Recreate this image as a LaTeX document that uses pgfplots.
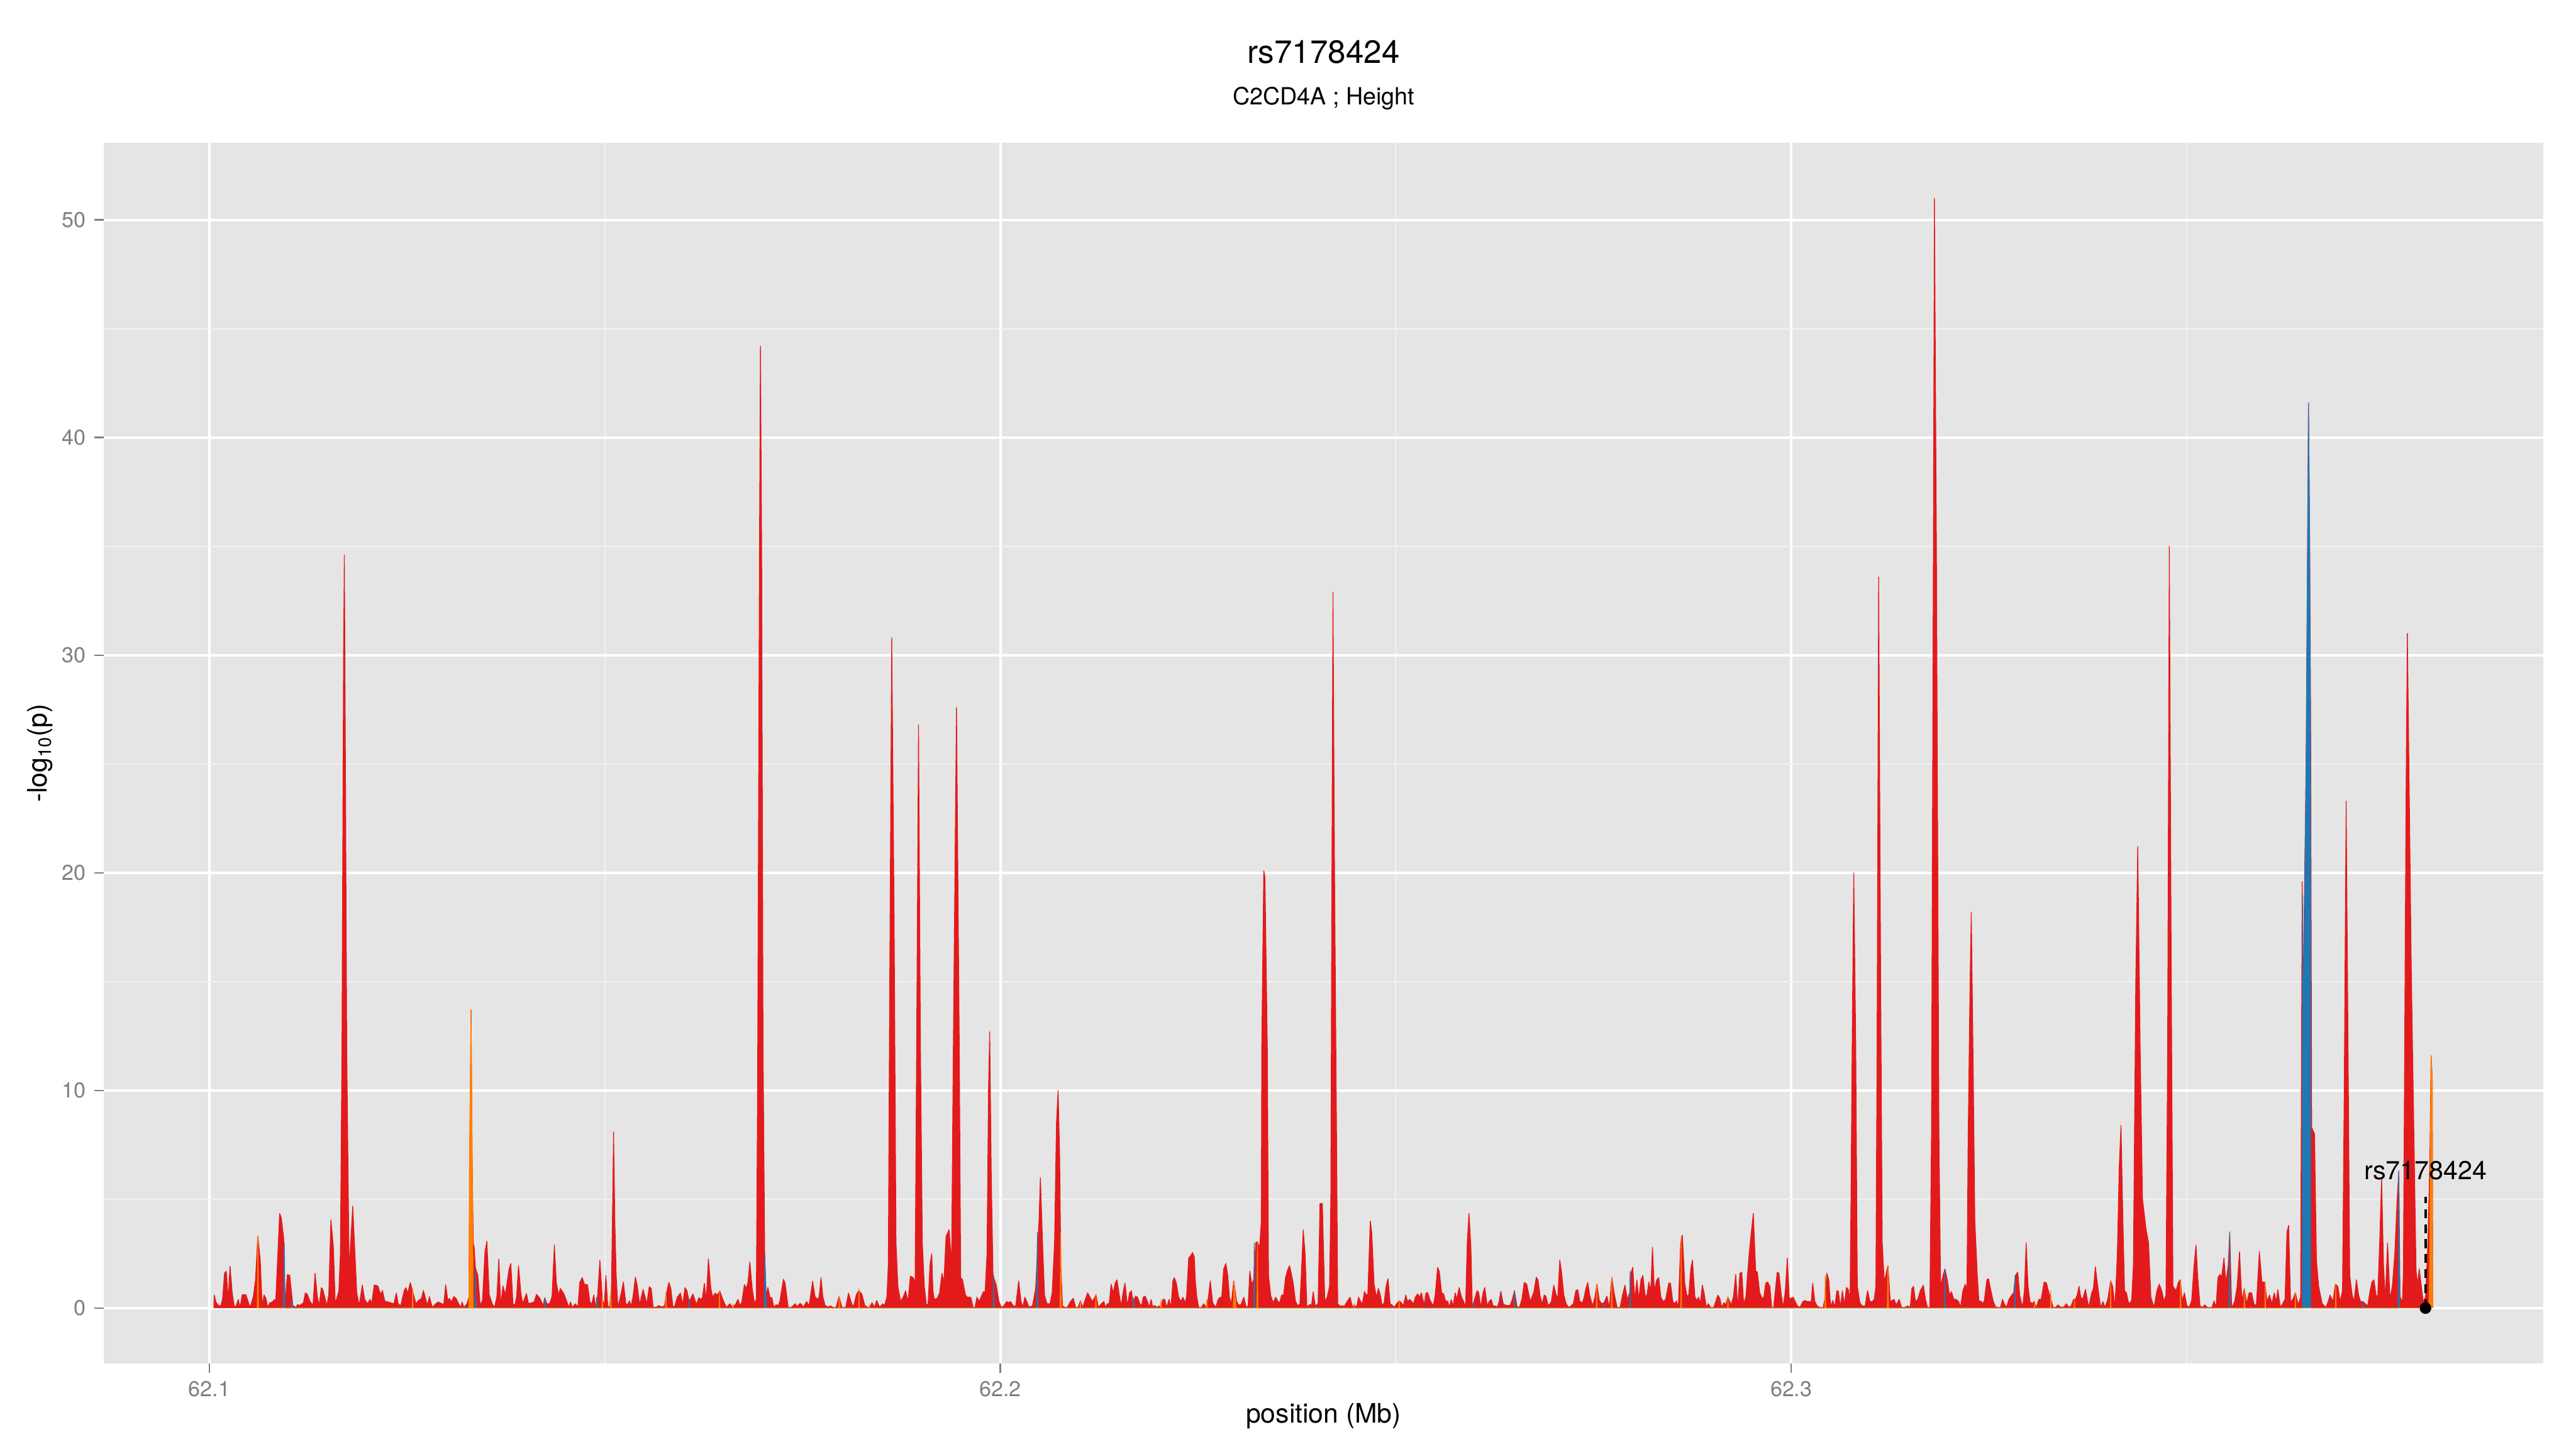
\documentclass[border=0pt]{standalone}
\usepackage{fontspec}
\setmainfont{TeX Gyre Heros}
\usepackage{pgfplots}
\pgfplotsset{compat=1.18}
\definecolor{ggbg}{HTML}{E5E5E5}
\definecolor{ggminor}{HTML}{F2F2F2}
\definecolor{ggtick}{HTML}{7F7F7F}
\definecolor{ldred}{HTML}{E31A1C}
\definecolor{ldblue}{HTML}{1F78B4}
\definecolor{ldorange}{HTML}{FF7F00}
\definecolor{ldpurple}{HTML}{6A3D9A}
% x = position - 62.1 Mb, in kb
\begin{document}
\begin{tikzpicture}
\path[use as bounding box] (0,0) rectangle (1152pt,648pt);
\begin{axis}[
  at={(46.3pt,38.2pt)}, anchor=south west,
  width=1091.1pt, height=546pt, scale only axis,
  xmin=-13.4, xmax=295.1, ymin=-2.55, ymax=53.55,
  axis background/.style={fill=ggbg},
  axis line style={draw=none},
  tick pos=left,
  xtick={0,100,200}, xticklabels={62.1,62.2,62.3},
  minor xtick={50,150,250},
  ytick={0,10,20,30,40,50}, minor ytick={5,15,25,35,45},
  grid=both,
  major grid style={white, line width=1.1pt},
  minor grid style={ggminor, line width=0.55pt},
  major tick style={ggtick, line width=0.7pt},
  major tick length=4.25pt, minor tick length=0pt,
  tick align=outside,
  /pgf/number format/assume math mode=true,
  ticklabel style={font=\fontsize{9.6}{11}\selectfont, text=ggtick},
]
\addplot[fill=ldred, draw=ldred, line width=0.35pt, line join=round] table {
0.55 0
0.60 0.6
0.84 0.25
1.21 0.1
1.45 0.12
1.66 0.44
1.90 1.6
2.12 1.7
2.36 0.4
2.60 1.92
2.87 0.69
3.15 0.03
3.39 0.12
3.63 0.4
3.87 0.03
4.14 0.61
4.60 0.61
4.90 0.28
5.14 0.03
5.54 0.53
5.81 1.27
6.11 3.3
6.42 2.17
6.66 0.12
6.90 0.61
7.14 0.44
7.36 0.03
7.63 0.24
7.96 0.28
8.17 0.38
8.38 0.36
8.87 4.35
9.08 4.14
9.38 3.2
9.57 0.2
9.84 1.53
10.14 1.51
10.54 0.12
10.90 0.03
11.14 0.16
11.41 0.12
11.87 0.24
12.11 0.69
12.35 0.65
12.72 0.3
13.08 0.12
13.35 1.6
13.63 0.53
13.87 0.12
14.14 0.94
14.32 0.86
14.84 0.12
15.08 0.61
15.35 4.06
15.66 2.83
15.90 0.2
16.35 0.77
16.55 2.5
16.75 12
16.95 30
17.05 34.6
17.12 30
17.35 12
17.65 1.76
18.11 4.68
18.62 0.69
18.93 0.12
19.32 1.06
19.62 0.4
19.99 0.2
20.29 0.4
20.50 0.2
20.83 1.06
21.29 1.02
21.65 0.61
21.86 0.81
22.17 0.32
22.56 0.28
23.32 0.2
23.62 0.69
23.86 0.2
24.17 0.1
24.62 0.81
24.83 0.94
25.07 0.69
25.38 1.17
25.68 0.77
26.10 0.2
26.44 0.36
26.80 0.44
27.04 0.81
27.32 0.44
27.56 0.12
27.80 0.53
28.16 0.03
28.62 0.2
28.92 0.28
29.62 0.16
29.86 1.08
30.13 0.36
30.35 0.44
30.59 0.28
30.89 0.53
31.19 0.44
31.50 0.2
31.74 0.03
31.95 0.28
32.16 0.03
32.56 0.2
32.80 0.5
32.95 7.6
33.07 13.7
33.20 7
33.35 3
33.46 2.8
33.62 1.85
33.92 1.51
34.22 0.12
34.52 0.36
34.83 2.58
35.07 3.07
35.37 0.61
35.74 0.2
36.04 0.03
36.34 0.53
36.58 2.25
36.83 0.12
37.10 1.02
37.40 0.61
37.86 1.76
38.10 2.05
38.37 0.2
38.61 0.12
38.83 0.53
39.07 1.95
39.37 0.69
39.61 0.2
40.07 0.67
40.34 0.2
41.04 0.28
41.34 0.63
41.80 0.44
42.16 0.12
42.40 0.48
42.64 0.2
43.01 0.2
43.31 0.53
43.61 2.9
43.85 1.18
44.13 0.61
44.37 0.9
44.82 0.65
45.12 0.36
45.43 0.03
45.64 0.28
45.88 0.03
46.28 0.2
46.58 0.03
46.82 1.18
47.12 1.4
47.43 1.08
47.79 1.08
48.09 0.3
48.33 0.16
48.58 0.6
48.85 0.03
49.06 0.5
49.36 2.2
49.67 0.4
49.91 0.1
50.12 1.5
50.36 0.1
50.58 0.03
50.82 0.8
50.98 5
51.09 8.1
51.25 4
51.42 1.5
51.64 0.03
51.88 0.4
52.12 0.8
52.33 1.2
52.64 0.2
52.85 0.16
53.09 0.33
53.30 0.1
53.54 0.5
53.85 1.42
54.09 1.02
54.39 0.15
54.82 0.86
55.06 0.53
55.30 0.2
55.60 0.98
55.85 0.9
56.09 0.05
56.42 0.03
56.82 0.12
57.12 0.05
57.54 0.1
57.78 0.69
58.09 1.18
58.33 0.9
58.57 0.12
58.78 0.03
59.15 0.5
59.54 0.69
59.84 0.16
60.12 0.94
60.36 0.8
60.66 0.3
61.12 0.65
61.57 0.16
61.87 0.48
62.12 0.4
62.33 0.48
62.57 1.14
62.81 0.36
63.08 2.26
63.39 0.9
63.63 0.5
63.93 0.69
64.15 0.6
64.54 0.77
64.90 0.4
65.36 0.03
65.81 0.2
66.11 0.03
66.51 0.16
66.81 0.4
67.11 0.1
67.32 0.3
67.63 1.08
67.87 0.9
68.08 1.18
68.32 2.12
68.63 0.86
68.93 0.2
69.14 0.4
69.30 10
69.54 35
69.66 44.2
69.81 35
69.99 12
70.20 2.4
70.36 0.5
70.60 0.95
70.87 0.48
71.11 0.48
71.35 0.03
71.66 0.16
71.87 0.1
72.11 0.3
72.57 1.33
72.78 1.14
73.17 0.03
73.54 0.03
74.08 0.2
74.29 0.05
74.60 0.2
74.81 0.2
75.05 0.03
75.50 0.3
75.81 0.1
76.26 1.23
76.56 0.53
76.87 0.4
77.08 0.5
77.32 1.4
77.56 0.5
77.84 0.12
78.23 0.05
78.53 0.1
78.84 0.03
79.23 0.03
79.59 0.53
79.96 0.03
80.44 0.03
80.80 0.69
81.11 0.3
81.41 0.03
81.77 0.6
82.08 0.8
82.47 0.65
82.86 0.12
83.23 0.03
83.47 0.03
83.77 0.25
84.08 0.03
84.35 0.35
84.74 0.03
85.11 0.2
85.35 0.12
85.65 0.5
85.83 2
86.01 15
86.26 30.8
86.56 18
86.80 3
87.04 1.0
87.38 0.3
87.71 0.5
88.01 0.8
88.32 0.3
88.62 1.47
88.98 1.4
89.22 1.2
89.41 12
89.65 26.8
89.89 12
90.13 3
90.38 1.0
90.65 0.12
90.86 0.2
91.10 2.0
91.32 2.5
91.47 0.8
91.65 0.4
92.01 0.45
92.31 0.7
92.62 1.6
92.86 1.2
93.13 3.3
93.52 3.6
93.83 2
94.05 12
94.45 27.6
94.80 12
94.98 1.4
95.22 1.3
95.58 0.6
95.82 0.5
96.25 0.5
96.55 0.03
96.79 0.03
97.04 0.5
97.31 0.3
97.55 0.5
97.85 0.75
98.07 0.75
98.31 2.5
98.50 10
98.65 12.7
98.85 6
99.07 1.5
99.46 1.08
99.82 0.3
100.13 0.03
100.43 0.1
100.79 0.3
101.03 0.25
101.28 0.3
101.64 0.1
101.94 0.1
102.31 1.25
102.61 0.3
102.85 0.05
103.09 0.5
103.34 0.3
103.61 0.05
104.06 0.1
104.46 0.9
104.67 2.5
104.88 4
105.06 6
105.33 3
105.58 0.6
105.88 0.2
106.27 0.2
106.55 0.7
106.85 3
107.09 8.5
107.30 10
107.49 7
107.64 2
107.85 0.1
108.15 0.03
108.45 0.03
108.85 0.3
109.21 0.45
109.52 0.03
109.82 0.03
110.12 0.33
110.42 0.03
110.73 0.4
111.03 0.7
111.33 0.5
111.64 0.3
112.09 0.6
112.39 0.03
112.76 0.2
113.09 0.3
113.30 0.03
113.51 0.2
113.76 0.2
114.00 1.1
114.27 0.7
114.51 1.15
114.75 1.3
115.03 0.6
115.27 0.1
115.51 0.7
115.75 1.15
116.06 0.1
116.33 0.7
116.57 0.8
116.78 0.2
117.09 0.55
117.33 0.5
117.63 0.2
117.85 0.1
118.06 0.5
118.30 0.55
118.60 0.3
118.84 0.03
119.06 0.4
119.27 0.03
119.51 0.12
119.75 0.03
120.06 0.1
120.30 0.03
120.57 0.4
120.78 0.4
121.02 0.03
121.33 0.4
121.57 0.03
121.81 1.25
121.99 1.4
122.24 1.15
122.54 0.5
122.84 0.3
123.08 0.5
123.33 0.25
123.54 0.5
123.81 2.3
124.05 2.4
124.30 2.55
124.51 2.35
124.66 1.2
124.84 0.5
125.08 0.03
125.42 0.03
125.72 0.2
126.02 0.03
126.27 0.4
126.54 1.25
126.84 0.25
127.23 0.03
127.54 0.4
127.81 0.5
127.99 0.5
128.23 1.8
128.51 2.05
128.75 1.5
128.96 0.5
129.20 0.2
129.51 1.25
129.87 0.3
130.11 0.15
130.41 0.15
130.78 0.5
131.08 0.03
131.32 0.1
131.54 1.7
131.78 1.1
132.02 1.3
132.29 3
132.47 3.05
132.78 2.8
132.99 4
133.05 12
133.30 20.1
133.45 19.8
133.75 12
133.90 1.5
134.20 0.55
134.50 0.25
134.81 0.5
135.11 0.3
135.32 0.25
135.56 0.6
135.81 0.6
136.05 1.4
136.32 1.75
136.56 1.95
136.78 1.6
137.02 1.15
137.32 0.3
137.62 0.1
137.87 0.2
138.05 1.5
138.29 3.6
138.53 2.5
138.75 0.03
139.05 0.15
139.35 0.15
139.56 0.75
139.81 0.1
140.17 0.2
140.41 4.8
140.71 4.8
141.02 0.3
141.32 0.5
141.62 1.0
141.78 5
141.92 20
142.05 32.9
142.25 20
142.50 8
142.65 0.2
142.92 0.1
143.22 0.1
143.53 0.1
143.83 0.3
144.22 0.5
144.53 0.03
144.74 0.15
145.04 0.03
145.28 0.5
145.56 0.3
145.74 0.15
146.04 0.77
146.25 0.6
146.46 0.65
146.77 4.0
146.95 3.5
147.25 1.1
147.55 0.5
147.80 0.9
148.04 0.6
148.28 0.1
148.52 0.25
148.77 1.0
149.01 1.35
149.28 0.2
149.58 0.12
149.80 0.03
150.10 0.2
150.43 0.33
150.70 0.25
150.95 0.1
151.25 0.6
151.49 0.3
151.76 0.4
152.01 0.3
152.25 0.2
152.46 0.5
152.76 0.65
153.01 0.5
153.22 0.7
153.61 0.1
153.82 0.7
154.04 0.7
154.34 0.35
154.73 0.1
154.98 0.6
155.28 1.86
155.49 1.7
155.79 0.7
156.04 0.65
156.31 0.3
156.55 0.33
156.76 0.03
157.00 0.4
157.22 0.1
157.52 0.7
157.70 0.4
158.00 0.94
158.31 0.5
158.58 0.3
158.82 0.03
159.03 3
159.25 4.35
159.49 2.8
159.67 0.03
160.03 0.5
160.28 0.8
160.49 0.7
160.73 0.03
161.03 0.7
161.25 0.95
161.55 0.1
161.79 0.3
162.06 0.4
162.30 0.1
162.61 0.1
162.82 0.03
163.06 0.3
163.27 0.77
163.58 0.2
163.91 0.12
164.43 0.12
164.73 0.4
165.00 0.8
165.33 0.05
165.64 0.05
165.94 0.4
166.24 1.18
166.55 1.1
167.00 0.3
167.46 0.75
167.76 1.42
167.97 1.3
168.27 0.5
168.51 0.2
168.76 0.6
168.97 0.55
169.27 0.1
169.67 0.3
169.97 1.06
170.27 0.6
170.48 0.5
170.73 2.2
170.94 1.7
171.24 0.6
171.54 0.2
171.85 0.03
172.15 0.1
172.45 0.2
172.76 0.8
173.00 0.85
173.27 0.3
173.60 0.25
173.81 0.5
174.03 0.9
174.27 1.18
174.51 0.6
174.87 0.1
175.18 0.5
175.42 1.1
175.72 0.36
176.03 0.2
176.33 0.25
176.69 0.55
177.00 0.03
177.30 1.42
177.60 0.7
177.97 0.03
178.36 0.03
178.66 0.6
178.97 1.05
179.27 0.4
179.57 0.7
179.72 1.6
179.96 1.88
180.21 0.4
180.48 1.3
180.72 0.4
180.99 1.3
181.24 1.5
181.54 0.5
181.78 0.65
181.99 1.2
182.24 0.8
182.45 2.8
182.69 0.8
182.99 1.3
183.24 1.4
183.51 0.5
183.81 0.3
184.12 0.4
184.51 1.15
184.72 1.15
185.02 0.3
185.26 0.2
185.48 0.33
185.72 0.05
186.02 3
186.23 3.35
186.54 1.1
186.84 0.5
187.05 0.65
187.29 1.8
187.51 2.2
187.81 0.53
188.05 0.35
188.30 0.5
188.51 0.2
188.75 1.06
188.96 0.73
189.26 0.03
189.50 0.2
189.80 0.03
190.20 0.03
190.71 0.6
190.96 0.45
191.23 0.03
191.47 0.25
191.71 0.15
191.99 0.5
192.38 0.15
192.68 0.5
192.98 1.55
193.23 0.03
193.50 1.6
193.74 1.65
193.98 0.2
194.26 0.5
194.65 2.4
194.95 3.5
195.20 4.35
195.50 1.7
195.71 1.65
196.01 0.7
196.32 0.45
196.53 0.5
196.77 1.15
197.01 1.2
197.29 1.0
197.53 0.03
197.77 0.03
198.22 1.65
198.44 1.6
198.74 0.6
198.98 0.03
199.25 0.8
199.50 2.3
199.74 0.45
200.01 0.45
200.25 0.5
200.50 0.3
200.77 0.1
201.10 0.03
201.47 0.3
201.77 0.35
202.01 0.3
202.28 0.3
202.53 0.3
202.71 1.15
202.98 0.3
203.28 0.1
203.59 0.03
204.04 0.03
204.28 0.5
204.50 1.6
204.74 1.3
204.98 0.05
205.25 0.35
205.49 0.03
205.77 0.8
205.95 0.77
206.22 0.03
206.46 0.8
206.71 0.15
206.98 0.95
207.22 0.85
207.43 0.3
207.55 5
207.70 12
207.90 20
208.15 12
208.35 1
208.67 0.25
208.98 0.1
209.34 0.1
209.64 0.8
209.95 0.3
210.25 0.3
210.49 0.4
210.70 1.0
210.85 12
211.05 33.6
211.30 15
211.50 3
211.76 1.2
212.22 1.95
212.52 0.3
212.98 0.4
213.28 0.15
213.64 0.4
213.95 0.03
214.34 0.03
214.73 0.1
215.04 0.03
215.25 0.9
215.46 1.0
215.70 0.3
216.00 0.4
216.31 0.8
216.70 1.05
216.97 0.4
217.22 0.03
217.52 0.03
217.73 8
217.97 35
218.10 51
218.35 35
218.67 8
218.88 1
219.19 1.5
219.43 1.8
219.73 1.3
220.00 0.6
220.25 0.75
220.55 0.4
220.85 0.4
221.16 0.3
221.40 0.03
221.70 0.8
222.00 1.1
222.21 0.8
222.37 8
222.61 15
222.76 18.2
222.97 12
223.21 4
223.52 1.5
223.73 0.3
223.97 0.33
224.18 0.2
224.42 0.35
224.73 1.3
224.94 1.35
225.24 0.8
225.55 0.3
225.85 0.05
226.15 0.03
226.46 0.03
226.70 0.4
227.00 0.15
227.21 0.03
227.52 0.4
227.88 0.6
228.12 0.7
228.33 1.5
228.64 1.65
228.88 0.6
229.24 0.03
229.48 0.8
229.70 3.0
229.94 1.0
230.18 0.3
230.48 0.2
230.69 0.3
230.99 0.03
231.30 0.4
231.60 0.4
231.97 1.2
232.27 1.15
232.51 0.8
232.82 0.4
233.12 0.03
233.42 0.03
233.72 0.15
234.03 0.05
234.48 0.05
234.78 0.2
235.09 0.03
235.39 0.1
235.69 0.4
235.93 0.4
236.15 0.6
236.39 1.0
236.60 0.5
236.84 0.4
237.20 0.86
237.60 0.03
237.99 0.7
238.20 0.9
238.45 1.9
238.72 1.1
239.11 0.03
239.41 0.3
239.66 0.03
240.02 0.4
240.38 1.25
240.63 1.0
240.93 0.03
241.23 2.5
241.47 6.5
241.69 8.4
241.93 4
242.14 0.8
242.38 0.7
242.60 0.3
242.84 0.2
243.05 0.4
243.26 2
243.56 15
243.81 21.2
244.11 12
244.41 5
244.87 3.6
245.17 3
245.47 0.5
245.87 0.03
246.23 0.8
246.53 1.1
246.84 0.8
247.14 0.3
247.38 0.6
247.59 12
247.80 35
248.05 15
248.26 1
248.65 0.8
248.96 1.2
249.20 1.3
249.41 0.3
249.71 0.7
250.02 0.1
250.32 0.05
250.62 0.33
250.92 1.9
251.17 2.9
251.38 1.5
251.68 0.1
251.99 0.03
252.29 0.15
252.59 0.03
252.95 0.03
253.20 0.03
253.44 0.33
253.71 0.03
253.95 1.4
254.20 1.55
254.41 1.4
254.71 2.3
254.95 1.15
255.26 2.0
255.44 3.5
255.68 0.03
256.07 0.3
256.38 1.0
256.68 2.6
256.98 0.3
257.28 0.9
257.59 0.2
257.89 0.7
258.20 0.7
258.50 0.2
258.80 0.1
259.19 2.6
259.50 1.2
259.86 1.2
260.16 0.3
260.47 0.6
260.77 0.2
261.07 0.7
261.31 0.3
261.53 0.85
261.83 0.03
262.13 0.2
262.43 0.4
262.68 3.5
262.89 3.8
263.13 0.3
263.43 0.4
263.74 0.7
264.10 0.15
264.40 0.5
264.60 19.6
264.70 14
265.10 25
265.40 41.6
265.55 35
265.67 27
265.80 8.3
266.16 8.0
266.40 2.2
266.68 1
267.13 0.2
267.59 0.03
267.89 0.3
268.13 0.6
268.49 0.3
268.80 1.1
269.10 1.0
269.40 0.3
269.70 0.8
269.92 10
270.16 23.3
270.40 12
270.61 1.5
270.92 0.6
271.16 0.3
271.46 1.3
271.73 0.6
271.98 0.3
272.28 0.3
272.58 0.2
272.88 0.1
273.19 0.8
273.43 1.2
273.67 1.3
273.94 0.6
274.15 0.5
274.40 3
274.64 6.0
274.88 2.0
275.10 0.4
275.40 3.0
275.70 0.4
276.00 1.0
276.31 2.5
276.61 5
276.82 6.3
276.97 0.5
277.28 0.3
277.40 1.7
277.75 24.4
277.90 31.0
278.40 15.4
279.00 1.7
279.20 1.1
279.40 1.8
279.90 0.3
280.20 0.5
280.50 3
280.75 7
280.90 11.6
281.05 10.5
281.10 0
};
\addplot[fill=ldblue, draw=ldblue, line width=0.3pt, line join=round] table {
9.35 0
9.45 3.0
9.55 0
10.38 0
10.45 0.4
10.52 0
33.54 0
33.62 1.85
33.72 0
42.33 0
42.40 0.48
42.47 0
48.88 0
48.95 0.5
49.02 0
60.59 0
60.66 0.4
60.73 0
70.15 0
70.22 2.4
70.30 1.5
70.45 0
99.08 0
99.15 1.5
99.22 0
104.60 0
104.67 3.5
104.74 0
116.78 0
116.85 0.5
116.92 0
132.03 0
132.10 3.0
132.17 0
139.85 0
139.90 0.12
139.95 0
159.80 0
159.85 0.3
159.90 0
164.93 0
165.00 0.8
165.07 0
176.30 0
176.35 0.25
176.40 0
179.55 0
179.62 1.7
179.69 0
219.33 0
219.40 1.8
219.47 0
228.23 0
228.30 1.5
228.37 0
255.37 0
255.44 3.5
255.51 0
264.62 0
264.64 19
264.75 13
265.10 25
265.40 41.6
265.55 35
265.66 25
265.67 0
272.23 0
272.28 0.3
272.33 0
276.74 0
276.82 6.3
276.90 0
};
\addplot[fill=ldorange, draw=ldorange, line width=0.3pt, line join=round] table {
6.03 0
6.11 3.3
6.20 0
25.62 0
25.68 0.9
25.74 0
32.80 0
32.86 7
33.07 13.7
33.18 9
33.30 3
33.33 0
49.61 0
49.67 0.5
49.73 0
50.69 0
50.75 0.8
50.81 0
57.66 0
57.72 0.7
57.78 0
64.42 0
64.48 0.8
64.54 0
66.15 0
66.20 0.2
66.25 0
79.56 0
79.62 0.55
79.68 0
82.06 0
82.12 0.9
82.18 0
83.40 0
83.45 0.15
83.50 0
107.55 0
107.62 3.5
107.69 0
110.06 0
110.12 0.35
110.18 0
112.01 0
112.07 0.65
112.13 0
120.26 0
120.32 0.4
120.38 0
126.04 0
126.10 0.4
126.16 0
129.45 0
129.55 1.2
129.70 0.5
129.80 0
132.44 0
132.50 3.0
132.56 0
144.69 0
144.74 0.2
144.79 0
150.38 0
150.43 0.35
150.48 0
175.34 0
175.40 1.1
175.46 0
177.24 0
177.30 1.42
177.36 0
186.02 0
186.08 3.3
186.14 0
191.93 0
191.99 0.55
192.05 0
204.24 0
204.30 1.5
204.36 0
212.14 0
212.22 1.95
212.30 0
230.73 0
230.78 0.3
230.83 0
232.74 0
232.80 0.8
232.86 0
235.74 0
235.80 0.4
235.86 0
240.32 0
240.38 1.25
240.44 0
249.16 0
249.22 1.3
249.28 0
257.24 0
257.30 0.9
257.36 0
259.86 0
259.92 1.2
259.98 0
263.68 0
263.74 0.7
263.80 0
268.79 0
268.85 1.1
268.91 0
280.66 0
280.72 3
280.90 11.6
281.05 10.5
281.10 0
};
\addplot[fill=ldpurple, draw=none] table {
153.56 0
153.61 0.7
153.66 0
163.22 0
163.27 0.8
163.32 0
};
\addplot[black, line width=1.2pt, dash pattern=on 4pt off 2.7pt] coordinates {(280.19,0) (280.19,5.1)};
\addplot[only marks, mark=*, mark size=2.4pt, black] coordinates {(280.19,0)};
\node[font=\fontsize{11.6}{13}\selectfont, anchor=base] at (axis cs:280.19,5.9) {rs7178424};
\end{axis}
\node[font=\fontsize{14.4}{17}\selectfont, anchor=base] at (591.9pt,619.7pt) {rs7178424};
\node[font=\fontsize{10.6}{13}\selectfont, anchor=base] at (591.9pt,601.2pt) {C2CD4A ; Height};
\node[font=\fontsize{12}{14}\selectfont, anchor=base] at (591.9pt,11.8pt) {position (Mb)};
\node[font=\fontsize{12}{14}\selectfont, anchor=base, rotate=90] at (21pt,311.2pt) {-log\textsubscript{10}(p)};
\end{tikzpicture}
\end{document}
